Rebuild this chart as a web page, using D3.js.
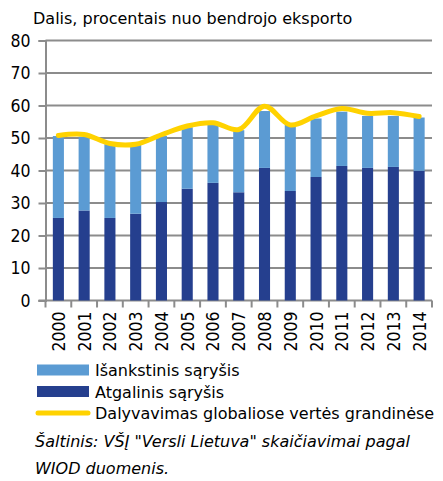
<!DOCTYPE html>
<html>
<head>
<meta charset="utf-8">
<script src="https://cdn.jsdelivr.net/npm/d3@7"></script>
<style>
  body { margin: 0; background: #fff; }
  text { font-family: "DejaVu Sans", sans-serif; fill: #000; }
  .cond { font-family: "DejaVu Sans Condensed", "DejaVu Sans", sans-serif; }
</style>
</head>
<body>
<div id="chart"></div>
<script>
// duomenys nuskaityti nuo paveikslo
var years = ["2000","2001","2002","2003","2004","2005","2006","2007","2008","2009","2010","2011","2012","2013","2014"];
var backward = [25.4, 27.7, 25.4, 26.7, 30.3, 34.4, 36.2, 33.3, 40.8, 33.7, 38.0, 41.4, 40.8, 41.1, 39.9];
var totals   = [50.6, 50.4, 48.1, 48.1, 50.6, 53.3, 54.0, 52.4, 58.3, 54.2, 56.0, 58.1, 56.8, 56.8, 56.3];
var forward  = totals.map(function(t, i) { return +(t - backward[i]).toFixed(1); });
var gvc      = [50.8, 51.1, 48.3, 48.1, 51.0, 53.7, 54.7, 52.6, 59.8, 54.0, 56.8, 59.1, 57.6, 57.8, 56.6];
var yTicks   = [0, 10, 20, 30, 40, 50, 60, 70, 80];
var legendLabels = ["Išankstinis sąryšis", "Atgalinis sąryšis", "Dalyvavimas globaliose vertės grandinėse"];

var W = 443, H = 481;
var left = 45.5, right = 432, top0 = 40.5, bottom = 300.5;

var colLight = "#5b9bd3", colDark = "#253f8e", colLine = "#ffd200", colGrid = "#8c8c8c";

var svg = d3.select("#chart").append("svg")
    .attr("width", W)
    .attr("height", H);

var x = d3.scaleBand()
    .domain(years)
    .range([left, right])
    .paddingInner(0.57)
    .paddingOuter(0.285);

var y = d3.scaleLinear()
    .domain([0, 80])
    .range([bottom, top0]);

// pavadinimas
svg.append("text")
    .attr("x", 33)
    .attr("y", 24)
    .attr("font-size", "16px")
    .text("Dalis, procentais nuo bendrojo eksporto");

// tinklelis
svg.append("g").selectAll("line")
    .data(yTicks.filter(function(d) { return d > 0; }))
    .enter().append("line")
    .attr("x1", left).attr("x2", right)
    .attr("y1", function(d) { return y(d); })
    .attr("y2", function(d) { return y(d); })
    .attr("stroke", colGrid)
    .attr("stroke-width", 2);

// y asis
var yAxis = svg.append("g")
    .attr("transform", "translate(" + left + ",0)")
    .call(d3.axisLeft(y).tickValues(yTicks).tickSize(7).tickPadding(8));
yAxis.select(".domain").attr("stroke", colGrid).attr("stroke-width", 2);
yAxis.selectAll(".tick line").attr("stroke", colGrid).attr("stroke-width", 2);
yAxis.selectAll(".tick text").attr("font-size", "17.5px").attr("fill", "#000")
    .attr("font-family", null).attr("class", "cond");

// x asis
var band = x.step();
var xAxis = svg.append("g")
    .attr("transform", "translate(0," + bottom + ")");
xAxis.append("line")
    .attr("x1", left - 7).attr("x2", right)
    .attr("stroke", colGrid).attr("stroke-width", 2);
xAxis.selectAll("line.tk")
    .data(d3.range(years.length + 1))
    .enter().append("line")
    .attr("class", "tk")
    .attr("x1", function(i) { return left + i * band; })
    .attr("x2", function(i) { return left + i * band; })
    .attr("y1", 0).attr("y2", 7)
    .attr("stroke", colGrid).attr("stroke-width", 2);
xAxis.selectAll("text")
    .data(years)
    .enter().append("text")
    .attr("class", "cond")
    .attr("transform", function(d) {
        return "translate(" + (x(d) + x.bandwidth() / 2 + 6.5) + ",11) rotate(-90)";
    })
    .attr("text-anchor", "end")
    .attr("font-size", "17.5px")
    .text(function(d) { return d; });

// stulpeliai
var bars = svg.append("g");
bars.selectAll("rect.back")
    .data(years)
    .enter().append("rect")
    .attr("class", "back")
    .attr("x", function(d) { return x(d); })
    .attr("width", x.bandwidth())
    .attr("y", function(d, i) { return y(backward[i]); })
    .attr("height", function(d, i) { return y(0) - y(backward[i]); })
    .attr("fill", colDark);
bars.selectAll("rect.fwd")
    .data(years)
    .enter().append("rect")
    .attr("class", "fwd")
    .attr("x", function(d) { return x(d); })
    .attr("width", x.bandwidth())
    .attr("y", function(d, i) { return y(backward[i] + forward[i]); })
    .attr("height", function(d, i) { return y(backward[i]) - y(backward[i] + forward[i]); })
    .attr("fill", colLight);

// linija
var line = d3.line()
    .x(function(d, i) { return x(years[i]) + x.bandwidth() / 2; })
    .y(function(d) { return y(d); })
    .curve(d3.curveCatmullRom);
svg.append("path")
    .datum(gvc)
    .attr("d", line)
    .attr("fill", "none")
    .attr("stroke", colLine)
    .attr("stroke-width", 5)
    .attr("stroke-linecap", "round")
    .attr("stroke-linejoin", "round");

// legenda
var leg = svg.append("g");
var rows = [370, 391.5, 413];
legendLabels.forEach(function(lbl, i) {
    if (i < 2) {
        leg.append("rect")
            .attr("x", 37).attr("y", rows[i] - 5.5)
            .attr("width", 52).attr("height", 11)
            .attr("fill", i === 0 ? colLight : colDark);
    } else {
        leg.append("line")
            .attr("x1", 38).attr("x2", 88)
            .attr("y1", rows[i]).attr("y2", rows[i])
            .attr("stroke", colLine).attr("stroke-width", 5)
            .attr("stroke-linecap", "round");
    }
    leg.append("text")
        .attr("x", 95)
        .attr("y", rows[i] + 6)
        .attr("font-size", "16px")
        .text(lbl);
});

// šaltinis
svg.append("text")
    .attr("x", 35).attr("y", 447)
    .attr("font-size", "16px")
    .attr("font-style", "italic")
    .text("Šaltinis: VŠĮ \"Versli Lietuva\" skaičiavimai pagal");
svg.append("text")
    .attr("x", 35).attr("y", 474)
    .attr("font-size", "16px")
    .attr("font-style", "italic")
    .text("WIOD duomenis.");
</script>
</body>
</html>
